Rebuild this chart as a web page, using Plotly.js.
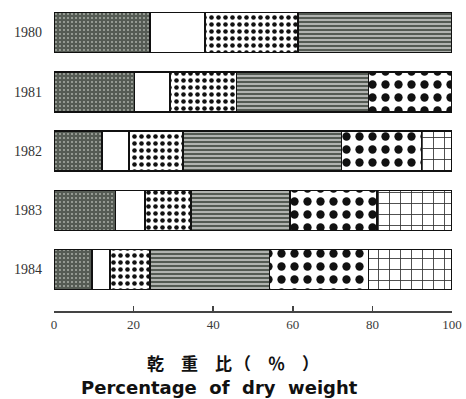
<!DOCTYPE html>
<html>
<head>
<meta charset="utf-8">
<script src="https://cdn.plot.ly/plotly-3.0.1.min.js"></script>
<style>html,body{margin:0;padding:0;background:#fff;}</style>
</head>
<body>
<div id="chart" style="width:466px;height:399px;"></div>
<script>
var years = ['1980', '1981', '1982', '1983', '1984'];
var partA = [24.1, 20.2, 12.0, 15.5, 9.5];   // dark dotted
var partB = [13.9, 9.0, 6.9, 7.4, 4.6];      // white
var partC = [23.3, 16.7, 13.5, 11.5, 10.0];  // small dots
var partD = [38.7, 33.1, 39.8, 24.9, 30.0];  // horizontal lines
var partE = [0, 21.0, 20.1, 21.8, 24.9];     // large dots
var partF = [0, 0, 7.7, 18.9, 21.0];         // brick
var xTicks = [0, 20, 40, 60, 80, 100];
var titleJa = '乾　重　比';
var titleUnit = '（　％　）';
var titleEn = 'Percentage  of  dry  weight';

var styles = [
  {shape: '.', bg: '#555b54', fg: '#a9aea7', size: 4, sol: 0.2},
  {shape: '', bg: '#ffffff', fg: '#ffffff', size: 8, sol: 0.3},
  {shape: '.', bg: '#ffffff', fg: '#111111', size: 7, sol: 0.34},
  {shape: '-', bg: '#eeeeee', fg: '#545a53', size: 4, sol: 0.7},
  {shape: '.', bg: '#ffffff', fg: '#111111', size: 13, sol: 0.32},
  {shape: '+', bg: '#ffffff', fg: '#333333', size: 11, sol: 0.15}
];
var parts = [partA, partB, partC, partD, partE, partF];

var traces = parts.map(function (vals, i) {
  var s = styles[i];
  return {
    type: 'bar',
    orientation: 'h',
    y: years,
    x: vals,
    marker: {
      color: s.bg,
      line: {color: '#111111', width: 1.5},
      pattern: {shape: s.shape, bgcolor: s.bg, fgcolor: s.fg, size: s.size, solidity: s.sol, fillmode: 'replace'}
    },
    hoverinfo: 'skip',
    showlegend: false
  };
});

var layout = {
  width: 466,
  height: 399,
  margin: {l: 54, r: 14, t: 0, b: 88},
  paper_bgcolor: '#ffffff',
  plot_bgcolor: '#ffffff',
  barmode: 'stack',
  bargap: 0.325,
  showlegend: false,
  xaxis: {
    range: [0, 100],
    tickvals: xTicks,
    ticktext: xTicks.map(String),
    showgrid: false,
    zeroline: false,
    showline: true,
    linecolor: '#444444',
    linewidth: 2,
    ticks: 'inside',
    ticklen: 5,
    tickwidth: 1.5,
    tickcolor: '#444444',
    tickfont: {family: 'Liberation Serif, serif', size: 13, color: '#3a3a3a'},
    fixedrange: true
  },
  yaxis: {
    type: 'category',
    categoryorder: 'array',
    categoryarray: years,
    range: [4.7, -0.55],
    showgrid: false,
    zeroline: false,
    showline: false,
    ticks: '',
    ticklabelstandoff: 11,
    tickfont: {family: 'Liberation Serif, serif', size: 14, color: '#333333'},
    fixedrange: true
  },
  annotations: [
    {text: titleJa, xref: 'paper', yref: 'paper', x: 0.34, y: -0.164, xanchor: 'center', yanchor: 'middle',
     showarrow: false, font: {family: 'Noto Sans CJK JP', size: 17, color: '#111111', weight: 'bold'}},
    {text: titleUnit, xref: 'paper', yref: 'paper', x: 0.558, y: -0.164, xanchor: 'center', yanchor: 'middle',
     showarrow: false, font: {family: 'Noto Sans CJK JP', size: 17, color: '#111111', weight: 'bold'}},
    {text: titleEn, xref: 'paper', yref: 'paper', x: 0.417, y: -0.246, xanchor: 'center', yanchor: 'middle',
     showarrow: false, font: {family: 'DejaVu Sans', size: 18, color: '#111111', weight: 'bold'}}
  ]
};

Plotly.newPlot('chart', traces, layout, {staticPlot: true, displayModeBar: false});
</script>
</body>
</html>
